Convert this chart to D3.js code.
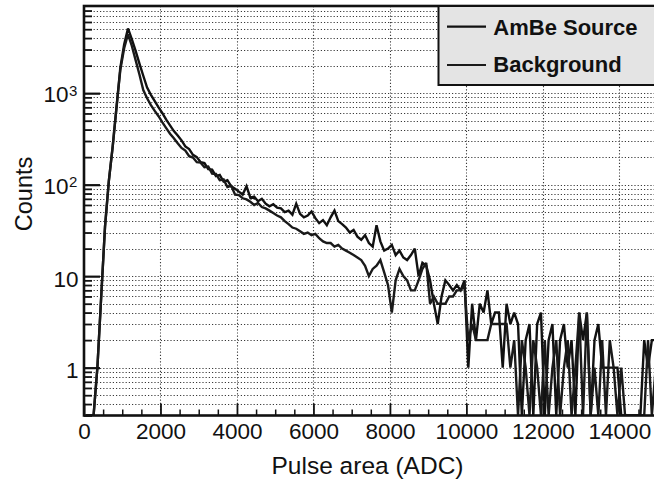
<!DOCTYPE html>
<html>
<head>
<meta charset="utf-8">
<script src="https://cdn.jsdelivr.net/npm/d3@7"></script>
<style>
  html, body { margin: 0; padding: 0; background: #fff; }
  svg { display: block; font-family: "Liberation Sans", Arial, Helvetica, sans-serif; }
</style>
</head>
<body>
<svg id="chart" width="654" height="483"></svg>
<script>
// Pulse-area histograms, 100 ADC bins (bin centres 50 ... 14950)
const binCenters = d3.range(50, 15000, 100);

const ambeCounts = [
  0, 0, 0, 1, 6, 35, 110, 260, 700, 1900,
  3400, 5100, 3900, 2900, 2100, 1550, 1150, 960, 820, 700,
  605, 515, 445, 385, 345, 305, 262, 245, 212, 200,
  176, 172, 148, 146, 124, 128, 108, 112, 96, 90,
  84, 78, 96, 72, 74, 66, 70, 62, 58, 61,
  56, 55, 50, 52, 47, 62, 48, 44, 46, 51,
  43, 38, 41, 36, 44, 52, 40, 37, 34, 30,
  32, 27, 25, 28, 23, 21, 36, 24, 19, 20,
  22, 17, 19, 16, 15, 17, 20, 10, 14, 13,
  9, 5, 3, 6, 9, 8, 7, 8, 7, 9,
  1, 5, 2, 5, 4, 7, 3, 4, 4, 1,
  5, 3, 4, 3, 0, 2, 3, 0, 3, 4,
  0, 2, 3, 0, 2, 3, 1, 2, 0, 4,
  2, 4, 0, 2, 3, 1, 1, 1, 1, 1,
  0, 0, 0, 0, 0, 0, 2, 1, 2, 2
];

const backgroundCounts = [
  0, 0, 0, 1, 6, 35, 110, 260, 700, 1800,
  3100, 4400, 3300, 2300, 1600, 1080, 880, 740, 640, 560,
  480, 415, 360, 322, 283, 252, 236, 205, 198, 176,
  174, 155, 158, 132, 131, 112, 114, 94, 97, 78,
  77, 71, 69, 65, 60, 63, 57, 55, 52, 49,
  46, 44, 40, 37, 34, 33, 31, 29, 30, 28,
  29, 26, 24, 23, 23, 21, 22, 20, 19, 18,
  17, 16, 15, 13, 10, 12, 13, 15, 11, 8,
  4, 9, 12, 10, 9, 7, 7, 9, 12, 14,
  5, 6, 5, 5, 5, 6, 6, 7, 7, 8,
  2, 3, 2, 2, 2, 2, 3, 3, 3, 3,
  3, 1, 2, 0, 2, 1, 0, 2, 1, 0,
  2, 0, 1, 2, 0, 1, 2, 0, 1, 4,
  0, 4, 0, 1, 0, 2, 0, 2, 1, 0,
  1, 0, 0, 0, 0, 0, 0, 2, 0, 1
];

const seriesNames = ["AmBe Source", "Background"];
const xTickValues = [0, 2000, 4000, 6000, 8000, 10000, 12000, 14000];
const yDecadeTicks = [1, 10, 100, 1000];
const yTickLabels = [
  { v: 1, base: "1", exp: "" },
  { v: 10, base: "10", exp: "" },
  { v: 100, base: "10", exp: "2" },
  { v: 1000, base: "10", exp: "3" }
];
const xTitle = "Pulse area (ADC)";
const yTitle = "Counts";

// ---- layout ----
const plot = { left: 84, top: 6, right: 657.6, bottom: 415.5 };
const yMin = 0.3, yMax = 8970;

const x = d3.scaleLinear().domain([0, 15000]).range([plot.left, plot.right]);
const y = d3.scaleLog().domain([yMin, yMax]).range([plot.bottom, plot.top]);

const svg = d3.select("#chart");

svg.append("defs").append("clipPath").attr("id", "plotClip")
  .append("rect")
  .attr("x", plot.left).attr("y", plot.top)
  .attr("width", plot.right - plot.left).attr("height", plot.bottom - plot.top);

// log minor values (1..9 x 10^k) inside the y range
const yAllTicks = [];
for (let k = -1; k <= 3; k++) {
  for (let m = 1; m <= 9; m++) {
    const v = m * Math.pow(10, k);
    if (v >= yMin && v <= yMax) yAllTicks.push(v);
  }
}
const yMinorTicks = yAllTicks.filter(v => !yDecadeTicks.includes(v));
const xMinorTicks = d3.range(500, 15000, 500).filter(v => v % 2000 !== 0);

// ---- dotted grid ----
const grid = svg.append("g").attr("clip-path", "url(#plotClip)")
  .attr("stroke", "#3a3a3a").attr("stroke-width", 1.1).attr("stroke-dasharray", "1.2,2");

grid.selectAll("line.h").data(yAllTicks).join("line")
  .attr("class", "h")
  .attr("x1", plot.left).attr("x2", plot.right)
  .attr("y1", d => Math.round(y(d)) + 0.5).attr("y2", d => Math.round(y(d)) + 0.5);

grid.selectAll("line.v").data(xTickValues.filter(v => v > 0)).join("line")
  .attr("class", "v")
  .attr("x1", d => Math.round(x(d)) + 0.5).attr("x2", d => Math.round(x(d)) + 0.5)
  .attr("y1", plot.top).attr("y2", plot.bottom);

// ---- histogram lines ----
const line = d3.line()
  .x(d => x(d[0]))
  .y(d => y(Math.max(d[1], yMin)));

const seriesData = [ambeCounts, backgroundCounts];
const seriesColors = ["#111111", "#1a1a1a"];

svg.append("g").attr("clip-path", "url(#plotClip)")
  .selectAll("path").data(seriesData).join("path")
  .attr("d", counts => line(binCenters.map((c, i) => [c, counts[i]])))
  .attr("fill", "none")
  .attr("stroke", (d, i) => seriesColors[i])
  .attr("stroke-width", 2.4)
  .attr("stroke-linejoin", "miter")
  .attr("stroke-miterlimit", 3);

// ---- axes ----
const tickStyle = g => {
  g.select(".domain").remove();
  g.selectAll(".tick line").attr("stroke", "#111");
};

svg.append("g").attr("transform", `translate(${plot.left},0)`)
  .call(d3.axisLeft(y).tickValues(yDecadeTicks).tickSize(-16).tickFormat(""))
  .call(tickStyle)
  .selectAll(".tick line").attr("stroke-width", 2.2);

svg.append("g").attr("transform", `translate(${plot.left},0)`)
  .call(d3.axisLeft(y).tickValues(yMinorTicks).tickSize(-8).tickFormat(""))
  .call(tickStyle)
  .selectAll(".tick line").attr("stroke-width", 1.8);

const xAxisG = svg.append("g").attr("transform", `translate(0,${plot.bottom})`)
  .call(d3.axisBottom(x).tickValues(xTickValues).tickSize(-12).tickPadding(8).tickFormat(d3.format("d")))
  .call(tickStyle);
xAxisG.selectAll(".tick line").attr("stroke-width", 1.8);
xAxisG.selectAll(".tick text")
  .attr("fill", "#111").attr("font-size", 22.5)
  .attr("font-family", "'Liberation Sans', Arial, sans-serif");

svg.append("g").attr("transform", `translate(0,${plot.bottom})`)
  .call(d3.axisBottom(x).tickValues(xMinorTicks).tickSize(-6).tickFormat(""))
  .call(tickStyle)
  .selectAll(".tick line").attr("stroke-width", 1.5);

// y tick labels with exponents
const yLab = svg.append("g").attr("fill", "#111");
yTickLabels.forEach(t => {
  const yy = y(t.v);
  if (t.exp) {
    yLab.append("text").attr("x", 68.5).attr("y", yy + 9).attr("text-anchor", "end")
      .attr("font-size", 22.5).text(t.base);
    yLab.append("text").attr("x", 69).attr("y", yy + 2.5).attr("text-anchor", "start")
      .attr("font-size", 15).text(t.exp);
  } else {
    yLab.append("text").attr("x", 78.5).attr("y", yy + 10.5).attr("text-anchor", "end")
      .attr("font-size", 22.5).text(t.base);
  }
});

// frame
svg.append("rect")
  .attr("x", plot.left).attr("y", plot.top)
  .attr("width", plot.right - plot.left).attr("height", plot.bottom - plot.top)
  .attr("fill", "none").attr("stroke", "#111").attr("stroke-width", 2.6);

// axis titles
svg.append("text")
  .attr("x", 367.5).attr("y", 473.5).attr("text-anchor", "middle")
  .attr("font-size", 24.5).attr("fill", "#111").text(xTitle);

svg.append("text")
  .attr("transform", "translate(32,194) rotate(-90)")
  .attr("text-anchor", "middle")
  .attr("font-size", 23.5).attr("fill", "#111").text(yTitle);

// ---- legend ----
const legend = svg.append("g");
legend.append("rect")
  .attr("x", 438.5).attr("y", plot.top).attr("width", 240).attr("height", 79)
  .attr("fill", "#e4e4e4").attr("stroke", "#111").attr("stroke-width", 2);

const legendRows = [
  { name: seriesNames[0], ly: 26.7, ty: 35 },
  { name: seriesNames[1], ly: 65, ty: 72.3 }
];
legendRows.forEach((r, i) => {
  legend.append("line")
    .attr("x1", 447).attr("x2", 486).attr("y1", r.ly).attr("y2", r.ly)
    .attr("stroke", seriesColors[i]).attr("stroke-width", 2.2);
  legend.append("text")
    .attr("x", 493.3).attr("y", r.ty)
    .attr("font-size", 22).attr("font-weight", "bold").attr("fill", "#111")
    .text(r.name);
});
</script>
</body>
</html>
